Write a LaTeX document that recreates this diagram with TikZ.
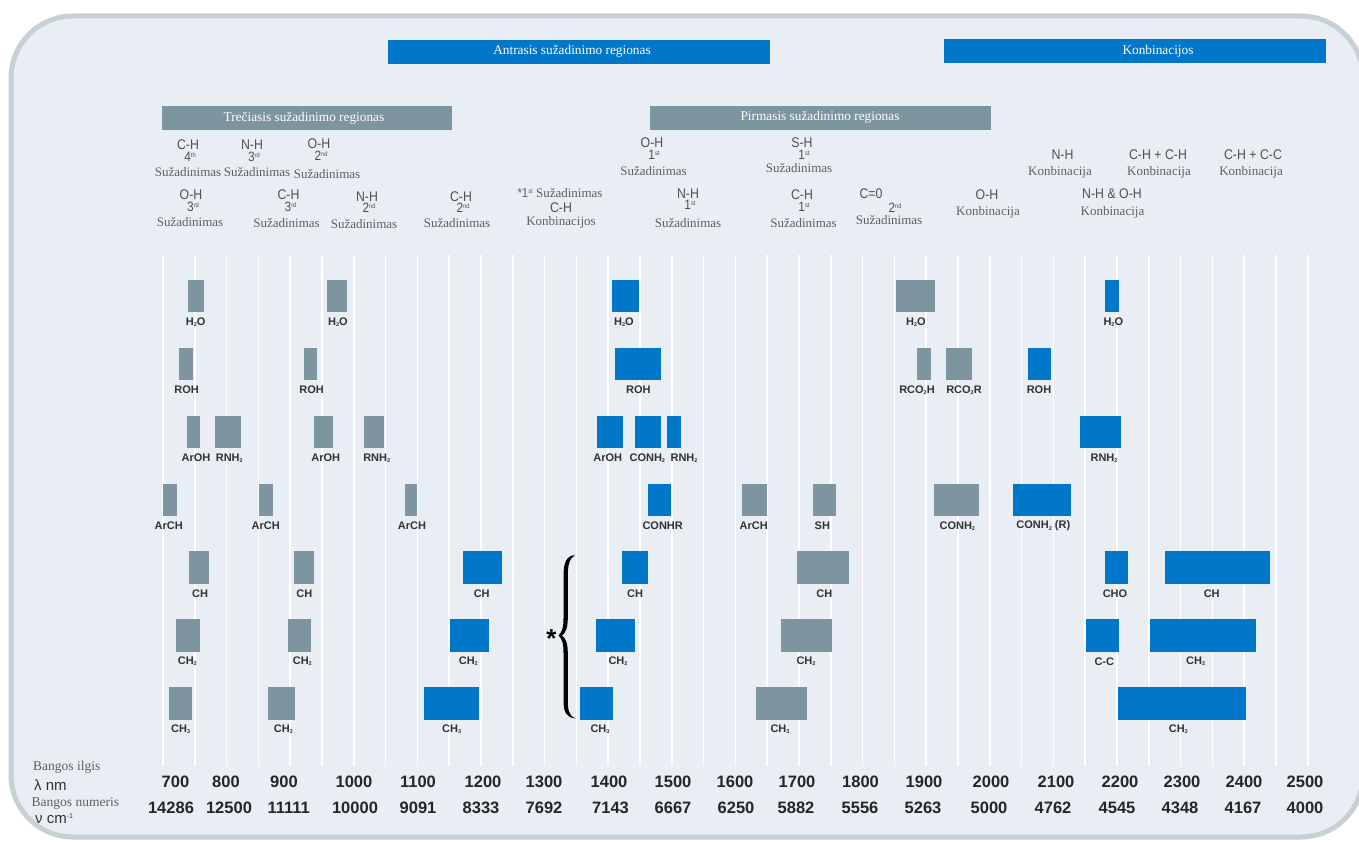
\documentclass[tikz,border=0pt]{standalone}
\usepackage{fontspec}
\setmainfont{Liberation Serif}
\setsansfont{Liberation Sans}
\newfontfamily\chemfont[FakeStretch=0.88]{Liberation Sans}
\definecolor{irblue}{HTML}{0077C8}
\definecolor{irgray}{HTML}{7D959F}
\definecolor{bgpanel}{HTML}{E8EEF4}
\definecolor{frameline}{HTML}{C6D1D4}
\definecolor{txtgray}{HTML}{505050}
\definecolor{wordgray}{HTML}{606060}
\definecolor{lbldark}{HTML}{333333}
\newcommand\sbs[1]{\raisebox{-1.3pt}{\fontsize{5.5}{5.5}\selectfont #1}}
\newcommand\ordn[2]{#1\raisebox{4pt}{\fontsize{6.5}{6.5}\selectfont #2}}
\tikzset{
  bandbox/.style={rectangle, draw=none, inner sep=0pt, minimum height=32.5pt, anchor=north west},
  bandlbl/.style={font=\fontsize{11}{11}\selectfont\sffamily\bfseries, text=lbldark, inner sep=0pt},
  hdrbar/.style={rectangle, draw=none, inner sep=0pt, anchor=north west},
  hdrtxt/.style={font=\fontsize{13.3}{14}\selectfont, text=white, inner sep=0pt},
  chem/.style={font=\chemfont\fontsize{14}{14}\selectfont, text=txtgray, inner sep=0pt},
  ordt/.style={font=\chemfont\fontsize{13.5}{13.5}\selectfont, text=txtgray, inner sep=0pt},
  wordt/.style={font=\fontsize{13}{13}\selectfont, text=wordgray, inner sep=0pt},
  axnum/.style={font=\fontsize{16.5}{17}\selectfont\sffamily\bfseries, text=black!85, inner sep=0pt},
  axname/.style={font=\fontsize{13.5}{14}\selectfont, text=wordgray, inner sep=0pt, anchor=west},
  axunit/.style={font=\fontsize{15}{15}\selectfont\sffamily, text=lbldark, inner sep=0pt, anchor=west},
  gridline/.style={draw=white, line width=1.6pt},
  panel/.style={draw=frameline, line width=5pt, fill=bgpanel, rounded corners=62pt}
}
% band: name, colour, x1, x2, ytop, label x, label
\newcommand\band[7]{%
  \pgfmathsetmacro\bandw{#4-#3}%
  \node[bandbox, fill=#2, minimum width=\bandw pt] (#1) at (#3,#5) {};%
  \node[bandlbl] (#1l) at (#6,#5+42.5) {#7};%
}
% group: name, xchem, ychem, chem, digit, sup, xword, yword
\newcommand\grp[8]{%
  \node[chem] (#1c) at (#2,#3) {#4};%
  \node[ordt] (#1o) at (#2+2,#3+11.5) {\ordn{#5}{#6}};%
  \node[wordt] (#1w) at (#7,#8) {Sužadinimas};%
}
% combination: name, xchem, ychem, chem, xword, yword
\newcommand\komb[6]{%
  \node[chem] (#1c) at (#2,#3) {#4};%
  \node[wordt] (#1w) at (#5,#6) {Konbinacija};%
}
\begin{document}
\begin{tikzpicture}[x=1pt,y=-1pt]
\useasboundingbox (0,0) rectangle (1359,843);
\fill[white] (0,0) rectangle (1359,843);
\draw[panel] (11,16) rectangle (1363,837);

% vertical grid
\foreach \k in {0,...,36} {
  \draw[gridline] ({163+31.8*\k},255) -- ({163+31.8*\k},766);
}

% header bars
\node[hdrbar, fill=irblue, minimum width=382pt, minimum height=24pt] (antr) at (388,40) {};
\node[hdrtxt] (antrt) at (572,51) {Antrasis sužadinimo regionas};
\node[hdrbar, fill=irblue, minimum width=382.5pt, minimum height=24pt] (komb) at (943.5,39) {};
\node[hdrtxt] (kombt) at (1158,51) {Konbinacijos};
\node[hdrbar, fill=irgray, minimum width=290pt, minimum height=24.5pt] (trec) at (162,105.5) {};
\node[hdrtxt] (trect) at (304,118) {Trečiasis sužadinimo regionas};
\node[hdrbar, fill=irgray, minimum width=341pt, minimum height=23.5pt] (pirm) at (650,106) {};
\node[hdrtxt] (pirmt) at (820,117.5) {Pirmasis sužadinimo regionas};

% group labels
\grp{laba}{188}{145}{C-H}{4}{th}{188}{172.5}
\grp{labb}{252}{145}{N-H}{3}{rd}{257}{172.5}
\grp{labc}{319}{144}{O-H}{2}{nd}{327}{174.5}
\grp{labd}{191}{195}{O-H}{3}{rd}{190}{222.5}
\grp{labe}{288.5}{195}{C-H}{3}{rd}{286.5}{223}
\grp{labf}{367}{196.5}{N-H}{2}{nd}{364}{224.5}
\grp{labg}{461}{196.5}{C-H}{2}{nd}{457}{223}
\grp{labh}{652}{143}{O-H}{1}{st}{653.5}{171}
\grp{labi}{688}{193.5}{N-H}{1}{st}{688}{223}
\grp{labj}{802}{143}{S-H}{1}{st}{799}{168.5}
\grp{labk}{802}{195}{C-H}{1}{st}{803.5}{223}
\node[chem] (labmc) at (871,193.5) {C=0};
\node[ordt] (labmo) at (895,207.5) {\ordn{2}{nd}};
\node[wordt] (labmw) at (889,220) {Sužadinimas};
\node[wordt] (labnw) at (560,193) {{\chemfont\fontsize{13}{13}\selectfont *\ordn{1}{st}} Sužadinimas};
\node[chem] (labnc) at (561,207.5) {C-H};
\node[wordt] (labnk) at (561,222) {Konbinacijos};
\komb{kbo}{987}{195}{O-H}{988}{212.5}
\komb{kbn}{1062.5}{155}{N-H}{1060}{172}
\komb{kbhh}{1158}{155}{C-H + C-H}{1159}{172}
\komb{kbhc}{1253}{155}{C-H + C-C}{1251}{172}
\komb{kbno}{1112}{193.5}{N-H \& O-H}{1112.5}{212.5}

% row A
\band{a1}{irgray}{187.3}{204}{279.5}{195.7}{H\sbs2O}
\band{a2}{irgray}{326.7}{347}{279.5}{338}{H\sbs2O}
\band{a3}{irblue}{611.7}{638.3}{279.5}{624}{H\sbs2O}
\band{a4}{irgray}{895.7}{934.3}{279.5}{916}{H\sbs2O}
\band{a5}{irblue}{1105}{1118.7}{279.5}{1113.3}{H\sbs2O}
% row B
\band{b1}{irgray}{179}{192.7}{347.5}{186.7}{ROH}
\band{b2}{irgray}{303.7}{316.3}{347.5}{311.7}{ROH}
\band{b3}{irblue}{615}{660.3}{347.5}{638.3}{ROH}
\band{b4}{irgray}{916.7}{930.7}{347.5}{917}{RCO\sbs2H}
\band{b5}{irgray}{945.7}{972}{347.5}{964}{RCO\sbs2R}
\band{b6}{irblue}{1027.3}{1050.3}{347.5}{1039}{ROH}
% row C
\band{c1}{irgray}{186.3}{199.7}{415.5}{196}{ArOH}
\band{c2}{irgray}{214.3}{240.7}{415.5}{229.3}{RNH\sbs2}
\band{c3}{irgray}{313.3}{333}{415.5}{325.7}{ArOH}
\band{c4}{irgray}{363.7}{383.3}{415.5}{376.7}{RNH\sbs2}
\band{c5}{irblue}{596.3}{622.3}{415.5}{607.7}{ArOH}
\band{c6}{irblue}{634.3}{660.3}{415.5}{647.3}{CONH\sbs2}
\band{c7}{irblue}{666.3}{680.3}{415.5}{684}{RNH\sbs2}
\band{c8}{irblue}{1079.3}{1121}{415.5}{1104}{RNH\sbs2}
% row D
\band{d1}{irgray}{162.7}{176.7}{483.5}{168.7}{ArCH}
\band{d2}{irgray}{259}{272.3}{483.5}{265.7}{ArCH}
\band{d3}{irgray}{405}{417}{483.5}{412}{ArCH}
\band{d4}{irblue}{647.3}{670.3}{483.5}{662.7}{CONHR}
\band{d5}{irgray}{742}{767}{483.5}{753.7}{ArCH}
\band{d6}{irgray}{812.3}{835.3}{483.5}{822.3}{SH}
\band{d7}{irgray}{933.3}{978.7}{483.5}{957.3}{CONH\sbs2}
\band{d8}{irblue}{1012.3}{1071}{483.5}{1043.3}{CONH\sbs2 (R)}
% row E
\band{e1}{irgray}{189}{208.7}{551}{200}{CH}
\band{e2}{irgray}{293.7}{314}{551}{304.3}{CH}
\band{e3}{irblue}{462.7}{501.3}{551}{481.7}{CH}
\band{e4}{irblue}{621.7}{648}{551}{635}{CH}
\band{e5}{irgray}{796.3}{848.3}{551}{824.3}{CH}
\band{e6}{irblue}{1104.7}{1127.7}{551}{1115}{CHO}
\band{e7}{irblue}{1164.3}{1269.7}{551}{1211.7}{CH}
% row F
\band{f1}{irgray}{175.7}{199.3}{619}{187.3}{CH\sbs2}
\band{f2}{irgray}{288}{310.7}{619}{302.3}{CH\sbs2}
\band{f3}{irblue}{449.3}{488.7}{619}{468.3}{CH\sbs2}
\band{f4}{irblue}{596}{634.7}{619}{618}{CH\sbs2}
\band{f5}{irgray}{780.7}{831.7}{619}{806}{CH\sbs2}
\band{f6}{irblue}{1085.7}{1118.7}{619}{1104.3}{C-C}
\band{f7}{irblue}{1149.3}{1255.3}{619}{1195.7}{CH\sbs2}
% row G
\band{g1}{irgray}{168.3}{191.3}{687}{180.7}{CH\sbs3}
\band{g2}{irgray}{268}{294.3}{687}{283.3}{CH\sbs3}
\band{g3}{irblue}{423.7}{479}{687}{451.7}{CH\sbs3}
\band{g4}{irblue}{579.3}{612.3}{687}{600}{CH\sbs3}
\band{g5}{irgray}{755.3}{806.3}{687}{780}{CH\sbs3}
\band{g6}{irblue}{1117.7}{1245.3}{687}{1178.3}{CH\sbs3}

% brace (filled, typographic shape) and star
\fill[black] (575,555) .. controls (566,556) and (563.5,563) .. (563.5,576) -- (563.5,618)
  .. controls (563.5,628) and (562,632) .. (558.5,635.5)
  .. controls (562,639) and (563.5,643) .. (563.5,653) -- (563.5,700)
  .. controls (563.5,712) and (566,717) .. (575,718.5)
  .. controls (569,715.5) and (567.8,710) .. (567.8,700) -- (567.8,653)
  .. controls (567.8,643) and (565.5,638) .. (562,635.5)
  .. controls (565.5,633) and (567.8,628) .. (567.8,618) -- (567.8,576)
  .. controls (567.8,566) and (569,558.5) .. (575,555) -- cycle;
\node[font=\fontsize{26}{26}\selectfont\sffamily\bfseries, inner sep=0pt, anchor=base] (star) at (551.5,647) {*};

% axis
\node[axname] (axwl) at (33,767) {Bangos ilgis};
\node[axunit] (axwlu) at (34,785) {λ nm};
\node[axname] (axwn) at (31.5,803) {Bangos numeris};
\node[axunit] (axwnu) at (35,819) {ν cm\raisebox{5pt}{\fontsize{7}{7}\selectfont -1}};
\foreach \nm/\wn/\xa/\xb [count=\i] in {700/14286/175.5/171, 800/12500/226/229, 900/11111/284/288.7, 1000/10000/354/355, 1100/9091/418/418, 1200/8333/483/481, 1300/7692/544/544, 1400/7143/609/610.5, 1500/6667/673/673, 1600/6250/735/736, 1700/5882/797/796, 1800/5556/860.5/860, 1900/5263/924/923, 2000/5000/991/989, 2100/4762/1056/1053, 2200/4545/1120/1117, 2300/4348/1182/1180, 2400/4167/1244/1243, 2500/4000/1305/1305} {
  \node[axnum] (nm\i) at (\xa,782) {\nm};
  \node[axnum] (wn\i) at (\xb,808) {\wn};
}
\end{tikzpicture}
\end{document}
